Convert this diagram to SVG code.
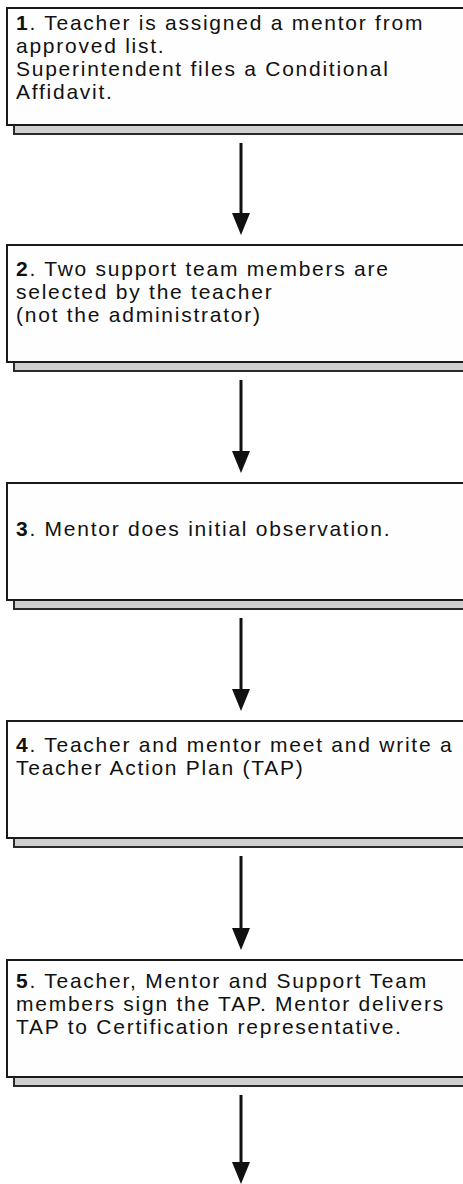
<svg xmlns="http://www.w3.org/2000/svg" width="463" height="1184" viewBox="0 0 463 1184">
<style>
.bx{fill:#fefefe;stroke:#1a1a1a;stroke-width:2}
.sh{fill:#cfcfcf;stroke:#2a2a2a;stroke-width:2}
.t{font-family:"Liberation Sans",Arial,sans-serif;font-size:21px;letter-spacing:1.75px;fill:#111}
.n{font-weight:bold}
.cn{fill:none;stroke:#111;stroke-width:3}
</style>
<defs>
<marker id="ah" markerUnits="userSpaceOnUse" viewBox="0 0 22 20" refX="0" refY="10" markerWidth="22" markerHeight="20" orient="auto">
<path d="M0,1 L22,10 L0,19 Z" fill="#111"/>
</marker>
</defs>
<g id="step1">
<rect class="sh" x="14" y="115" width="470" height="19"/>
<rect class="bx" x="7" y="8" width="470" height="117"/>
<text class="t" x="16" y="30"><tspan class="n">1</tspan>. Teacher is assigned a mentor from</text>
<text class="t" x="16" y="53">approved list.</text>
<text class="t" x="16" y="76">Superintendent files a Conditional</text>
<text class="t" x="16" y="99">Affidavit.</text>
</g>
<g id="step2">
<rect class="sh" x="14" y="352" width="470" height="19"/>
<rect class="bx" x="7" y="245" width="470" height="117"/>
<text class="t" x="16" y="276"><tspan class="n">2</tspan>. Two support team members are</text>
<text class="t" x="16" y="299">selected by the teacher</text>
<text class="t" x="16" y="322">(not the administrator)</text>
</g>
<g id="step3">
<rect class="sh" x="14" y="590" width="470" height="19"/>
<rect class="bx" x="7" y="483" width="470" height="117"/>
<text class="t" x="16" y="536"><tspan class="n">3</tspan>. Mentor does initial observation.</text>
</g>
<g id="step4">
<rect class="sh" x="14" y="828" width="470" height="19"/>
<rect class="bx" x="7" y="721" width="470" height="117"/>
<text class="t" x="16" y="752"><tspan class="n">4</tspan>. Teacher and mentor meet and write a</text>
<text class="t" x="16" y="775">Teacher Action Plan (TAP)</text>
</g>
<g id="step5">
<rect class="sh" x="14" y="1067" width="470" height="19"/>
<rect class="bx" x="7" y="960" width="470" height="117"/>
<text class="t" x="16" y="988"><tspan class="n">5</tspan>. Teacher, Mentor and Support Team</text>
<text class="t" x="16" y="1011">members sign the TAP. Mentor delivers</text>
<text class="t" x="16" y="1034">TAP to Certification representative.</text>
</g>
<g id="connectors">
<path class="cn" d="M241,143 V213" marker-end="url(#ah)"/>
<path class="cn" d="M241,380 V451" marker-end="url(#ah)"/>
<path class="cn" d="M241,618 V689" marker-end="url(#ah)"/>
<path class="cn" d="M241,856 V928" marker-end="url(#ah)"/>
<path class="cn" d="M241,1095 V1162" marker-end="url(#ah)"/>
</g>
</svg>
